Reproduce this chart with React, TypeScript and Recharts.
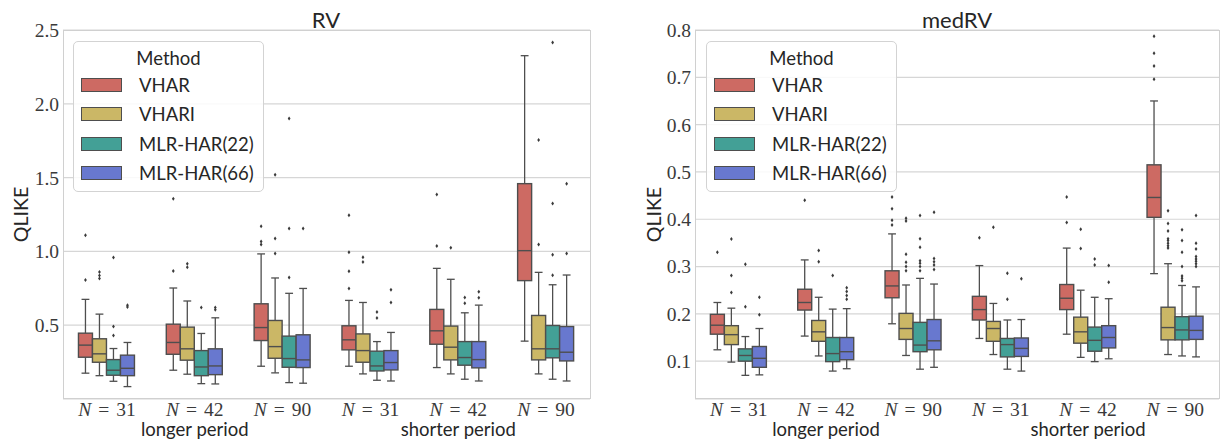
import { ComposedChart, Bar, XAxis, YAxis, CartesianGrid, Legend } from "recharts";

const SANS = "Lato, 'Open Sans', sans-serif";
const SERIF = "'Liberation Serif', serif";

const groups = ["31", "42", "90", "31", "42", "90"];
const periods = ["", "longer period", "", "", "shorter period", ""];
const methods = ["VHAR", "VHARI", "MLR-HAR(22)", "MLR-HAR(66)"];
const colors = ["#cd6a63", "#cbb766", "#43a096", "#6878cf"];
const edge = "#4e4e4e";

// box stats per group: [lower whisker, q1, median, q3, upper whisker]
const rvVHAR = [
  [0.175, 0.283, 0.365, 0.446, 0.675],
  [0.195, 0.303, 0.383, 0.507, 0.752],
  [0.222, 0.396, 0.484, 0.645, 0.983],
  [0.222, 0.333, 0.401, 0.496, 0.668],
  [0.213, 0.371, 0.462, 0.607, 0.885],
  [0.392, 0.802, 1.005, 1.459, 2.326],
];
const rvVHARI = [
  [0.158, 0.249, 0.306, 0.408, 0.575],
  [0.168, 0.263, 0.34, 0.487, 0.664],
  [0.177, 0.276, 0.355, 0.532, 0.82],
  [0.17, 0.249, 0.328, 0.441, 0.654],
  [0.17, 0.265, 0.351, 0.494, 0.811],
  [0.17, 0.265, 0.34, 0.566, 0.858],
];
const rvMLR22 = [
  [0.12, 0.161, 0.195, 0.267, 0.342],
  [0.104, 0.158, 0.217, 0.328, 0.444],
  [0.111, 0.215, 0.274, 0.426, 0.716],
  [0.127, 0.19, 0.224, 0.324, 0.389],
  [0.134, 0.229, 0.281, 0.389, 0.584],
  [0.134, 0.279, 0.34, 0.498, 0.774],
];
const rvMLR66 = [
  [0.084, 0.158, 0.208, 0.297, 0.383],
  [0.102, 0.165, 0.224, 0.34, 0.55],
  [0.107, 0.213, 0.265, 0.435, 0.749],
  [0.122, 0.197, 0.247, 0.328, 0.451],
  [0.122, 0.211, 0.267, 0.389, 0.636],
  [0.122, 0.258, 0.317, 0.491, 0.84],
];
// outliers
const rvVHAROut = [[1.11, 0.806], [0.867, 1.357], [1.171, 1.067, 1.046], [1.245, 0.994, 0.865, 0.749], [1.386, 1.037], []];
const rvVHARIOut = [[0.861, 0.836, 0.817], [0.917, 0.892], [1.52, 1.087, 0.985], [0.96, 0.928], [1.024], [1.755, 1.046]];
const rvMLR22Out = [[0.958, 0.491, 0.43], [0.62], [1.9, 1.155, 0.824], [0.589, 0.548], [0.688, 0.648], [2.416, 1.325, 0.978, 0.838]];
const rvMLR66Out = [[0.636, 0.623], [0.62, 0.605], [1.155], [0.741, 0.654], [0.727, 0.686], [1.459, 0.985]];

const medVHAR = [
  [0.124, 0.157, 0.176, 0.199, 0.224],
  [0.153, 0.208, 0.224, 0.252, 0.314],
  [0.179, 0.234, 0.259, 0.291, 0.369],
  [0.148, 0.187, 0.209, 0.237, 0.302],
  [0.157, 0.209, 0.233, 0.262, 0.339],
  [0.285, 0.404, 0.446, 0.515, 0.65],
];
const medVHARI = [
  [0.098, 0.135, 0.156, 0.175, 0.212],
  [0.111, 0.142, 0.162, 0.186, 0.235],
  [0.112, 0.146, 0.169, 0.201, 0.261],
  [0.114, 0.142, 0.169, 0.184, 0.222],
  [0.108, 0.138, 0.162, 0.193, 0.25],
  [0.114, 0.145, 0.171, 0.214, 0.306],
];
const medMLR22 = [
  [0.07, 0.1, 0.112, 0.126, 0.152],
  [0.079, 0.099, 0.116, 0.15, 0.21],
  [0.083, 0.12, 0.134, 0.182, 0.275],
  [0.083, 0.109, 0.135, 0.148, 0.187],
  [0.099, 0.121, 0.144, 0.172, 0.235],
  [0.111, 0.145, 0.166, 0.194, 0.26],
];
const medMLR66 = [
  [0.071, 0.087, 0.106, 0.131, 0.169],
  [0.084, 0.103, 0.12, 0.15, 0.211],
  [0.087, 0.124, 0.143, 0.188, 0.263],
  [0.079, 0.11, 0.127, 0.149, 0.188],
  [0.105, 0.128, 0.15, 0.175, 0.232],
  [0.109, 0.146, 0.165, 0.195, 0.257],
];
const medVHAROut = [[0.33], [0.44], [0.447, 0.422, 0.398, 0.388], [0.361], [0.447, 0.393], [0.787, 0.751, 0.724, 0.696]];
const medVHARIOut = [[0.358, 0.281, 0.245], [0.334, 0.31], [0.402, 0.396, 0.326, 0.309, 0.3, 0.291], [0.383], [0.379, 0.338], [0.418, 0.391, 0.375, 0.359, 0.355, 0.349, 0.344, 0.339]];
const medMLR22Out = [[0.305, 0.215], [0.281], [0.408, 0.359, 0.341, 0.312, 0.307, 0.3, 0.291], [0.286, 0.231], [0.316, 0.303], [0.378, 0.355, 0.33, 0.3, 0.28, 0.275, 0.27]];
const medMLR66Out = [[0.235, 0.198], [0.255, 0.247, 0.239, 0.231], [0.415, 0.317, 0.31, 0.303, 0.294], [0.274], [0.302, 0.267], [0.408, 0.349, 0.337, 0.321, 0.316, 0.311, 0.306, 0.3]];

const rvTicks = [0.5, 1.0, 1.5, 2.0, 2.5];
const medTicks = [0.1, 0.2, 0.3, 0.4, 0.5, 0.6, 0.7, 0.8];

function buildRows(stats: number[][][], outs: number[][][]) {
  return groups.map((g, i) => {
    const row: any = { key: "g" + i };
    stats.forEach((s, m) => {
      const st = s[i];
      const o = outs[m][i];
      row["s" + m] = st;
      row["o" + m] = o;
      row["r" + m] = [Math.min(st[0], ...o), Math.max(st[4], ...o)];
    });
    return row;
  });
}

const rvRows = buildRows([rvVHAR, rvVHARI, rvMLR22, rvMLR66], [rvVHAROut, rvVHARIOut, rvMLR22Out, rvMLR66Out]);
const medRows = buildRows([medVHAR, medVHARI, medMLR22, medMLR66], [medVHAROut, medVHARIOut, medMLR22Out, medMLR66Out]);

// the bar spans [lowest point, highest point]; the box is drawn inside it on the same linear scale
const boxShape = (m: number) => (props: any) => {
  const { x, y, width, height, payload } = props;
  const st: number[] = payload["s" + m];
  const o: number[] = payload["o" + m];
  const [lo, hi] = payload["r" + m];
  const top = Math.min(y, y + height);
  const bot = Math.max(y, y + height);
  const py = (v: number) => bot - ((v - lo) / (hi - lo)) * (bot - top);
  const cx = x + width / 2;
  const cap = width * 0.28;
  return (
    <g>
      <line x1={cx} x2={cx} y1={py(st[0])} y2={py(st[1])} stroke={edge} strokeWidth={1.3} />
      <line x1={cx} x2={cx} y1={py(st[3])} y2={py(st[4])} stroke={edge} strokeWidth={1.3} />
      <line x1={cx - cap} x2={cx + cap} y1={py(st[0])} y2={py(st[0])} stroke={edge} strokeWidth={1.3} />
      <line x1={cx - cap} x2={cx + cap} y1={py(st[4])} y2={py(st[4])} stroke={edge} strokeWidth={1.3} />
      <rect x={x} y={py(st[3])} width={width} height={py(st[1]) - py(st[3])} fill={colors[m]} stroke={edge} strokeWidth={1.4} />
      <line x1={x} x2={x + width} y1={py(st[2])} y2={py(st[2])} stroke={edge} strokeWidth={1.4} />
      {o.map((v, k) => {
        const oy = py(v);
        return <path key={k} d={`M${cx},${oy - 2} L${cx + 1.4},${oy} L${cx},${oy + 2} L${cx - 1.4},${oy} Z`} fill="#3a3a3a" />;
      })}
    </g>
  );
};

const GroupTick = (props: any) => {
  const { x, y, payload } = props;
  const i = Number(String(payload.value).slice(1));
  return (
    <g>
      <text x={x} y={y + 17} textAnchor="middle" fontFamily={SERIF} fontSize={19.5} fill="#3a3a3a">
        <tspan fontStyle="italic">N</tspan>
        <tspan dx={7}>=</tspan>
        <tspan dx={7}>{groups[i]}</tspan>
      </text>
      {periods[i] ? (
        <text x={x} y={y + 37} textAnchor="middle" fontFamily={SANS} fontSize={18.5} fill="#262626">
          {periods[i]}
        </text>
      ) : null}
    </g>
  );
};

const LegendBox = () => (
  <div
    style={{
      position: "relative",
      width: 191,
      height: 151,
      boxSizing: "border-box",
      border: "1px solid #d3d3d3",
      borderRadius: 5,
      background: "rgba(255,255,255,0.85)",
      fontFamily: SANS,
      color: "#262626",
    }}
  >
    <div style={{ position: "absolute", top: 4, width: "100%", textAlign: "center", fontSize: 18.5, lineHeight: "24px" }}>Method</div>
    {methods.map((m, i) => (
      <div key={m} style={{ position: "absolute", left: 7, top: 31 + i * 29.3, height: 24, display: "flex", alignItems: "center" }}>
        <span style={{ display: "inline-block", width: 41, height: 14, background: colors[i], border: `1.3px solid ${edge}`, boxSizing: "border-box" }} />
        <span style={{ marginLeft: 17, fontSize: 18.5, lineHeight: "24px" }}>{m}</span>
      </div>
    ))}
  </div>
);

type PanelProps = {
  rows: any[];
  domain: [number, number];
  ticks: number[];
  width: number;
  axisWidth: number;
  right: number;
  labelX: number;
  legendLeft: number;
};

const Panel = ({ rows, domain, ticks, width, axisWidth, right, labelX, legendLeft }: PanelProps) => (
  <ComposedChart width={width} height={445} data={rows} margin={{ top: 30, right, bottom: 0, left: 0 }} barGap={0} barCategoryGap="17.6%">
    <CartesianGrid vertical={false} stroke="#d6d6d6" strokeWidth={1.2} />
    <XAxis dataKey="key" height={46} axisLine={false} tickLine={false} tickSize={0} tickMargin={0} tick={<GroupTick />} interval={0} />
    <YAxis
      type="number"
      domain={domain}
      ticks={ticks}
      width={axisWidth}
      axisLine={false}
      tickLine={false}
      tickSize={0}
      tickMargin={4}
      tickFormatter={(v: number) => v.toFixed(1)}
      tick={{ fontFamily: SERIF, fontSize: 19.5, fill: "#3a3a3a" }}
      label={{ value: "QLIKE", angle: -90, position: "insideLeft", offset: labelX, style: { textAnchor: "middle", fontFamily: SANS, fontSize: 19.5, fill: "#262626" } }}
    />
    <Legend layout="horizontal" verticalAlign="middle" align="center" wrapperStyle={{ left: legendLeft, top: 41, width: 191, height: 151 }} content={<LegendBox />} />
    {methods.map((m, i) => (
      <Bar key={m} name={m} dataKey={"r" + i} fill={colors[i]} shape={boxShape(i)} isAnimationActive={false} />
    ))}
  </ComposedChart>
);

const frame = (left: number, w: number) => (
  <div style={{ position: "absolute", left, top: 30, width: w, height: 369, border: "1.3px solid #d0d0d0", boxSizing: "border-box", pointerEvents: "none" }} />
);

const titleStyle = (cx: number) => ({
  position: "absolute" as const,
  left: cx - 100,
  width: 200,
  top: 6,
  textAlign: "center" as const,
  fontFamily: SANS,
  fontSize: 22,
  color: "#262626",
});

export default function App() {
  return (
    <div style={{ position: "absolute", left: 0, top: 0, width: 1222, height: 445, background: "#fff", overflow: "hidden" }}>
      <div style={titleStyle(326)}>RV</div>
      <div style={titleStyle(957)}>medRV</div>
      <div style={{ position: "absolute", left: 0, top: 0 }}>
        <Panel rows={rvRows} domain={[0, 2.5]} ticks={rvTicks} width={600} axisWidth={63} right={10} labelX={21} legendLeft={73} />
      </div>
      <div style={{ position: "absolute", left: 610, top: 0 }}>
        <Panel rows={medRows} domain={[0.02, 0.8]} ticks={medTicks} width={612} axisWidth={85} right={3} labelX={44} legendLeft={96} />
      </div>
      {frame(63, 528)}
      {frame(695, 525)}
    </div>
  );
}
